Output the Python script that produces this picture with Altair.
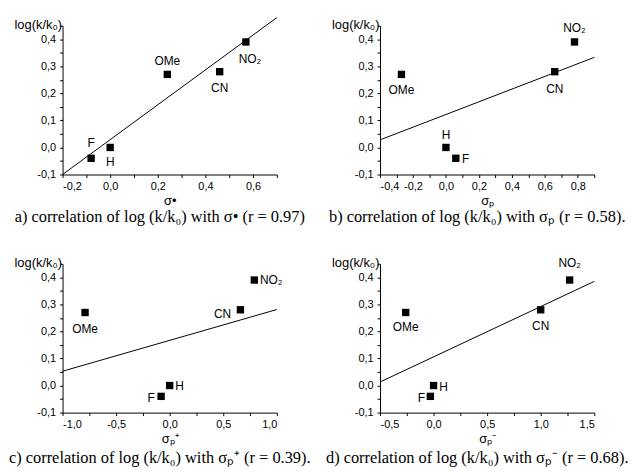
import altair as alt
import pandas as pd

# ---------------- data ----------------
labels = ["F", "H", "OMe", "CN", "NO₂"]
log_k = [-0.04, 0.0, 0.27, 0.28, 0.39]

sigma_dot = [-0.08, 0.0, 0.24, 0.46, 0.57]
sigma_p = [0.06, 0.0, -0.27, 0.66, 0.78]
sigma_p_plus = [-0.08, 0.0, -0.79, 0.66, 0.79]
sigma_p_minus = [-0.03, 0.0, -0.26, 1.0, 1.27]

# regression lines (end points)
line_a_x = [-0.2, 0.7]
line_a_y = [-0.1, 0.48]
line_b_x = [-0.4, 0.9]
line_b_y = [0.028, 0.333]
line_c_x = [-1.0, 1.0]
line_c_y = [0.053, 0.281]
line_d_x = [-0.5, 1.5]
line_d_y = [0.013, 0.385]

# axis ticks and labelled ticks
y_ticks = [-0.1, -0.05, 0.0, 0.05, 0.1, 0.15, 0.2, 0.25, 0.3, 0.35, 0.4, 0.45]
y_labelled = [-0.1, 0.0, 0.1, 0.2, 0.3, 0.4]
x_ticks_a = [-0.2, -0.1, 0.0, 0.1, 0.2, 0.3, 0.4, 0.5, 0.6, 0.7]
x_lab_a = [-0.2, 0.0, 0.2, 0.4, 0.6]
x_ticks_b = [-0.4, -0.3, -0.2, -0.1, 0.0, 0.1, 0.2, 0.3, 0.4, 0.5, 0.6, 0.7, 0.8, 0.9]
x_lab_b = [-0.4, -0.2, 0.0, 0.2, 0.4, 0.6, 0.8]
x_ticks_c = [-1.0, -0.75, -0.5, -0.25, 0.0, 0.25, 0.5, 0.75, 1.0]
x_lab_c = [-1.0, -0.5, 0.0, 0.5, 1.0]
x_ticks_d = [-0.5, -0.25, 0.0, 0.25, 0.5, 0.75, 1.0, 1.25, 1.5]
x_lab_d = [-0.5, 0.0, 0.5, 1.0, 1.5]

# label offsets (dx, dy) in px, per panel, in the order of `labels`
off_a = [(0, -15), (0, 15), (0, -13), (0, 16), (4, 17)]
off_b = [(10, 1), (0, -13), (0, 16), (0, 17), (0, -14)]
off_c = [(-10, 2), (10, 0), (0, 17), (-18, 4), (17, 0)]
off_d = [(-9, 2), (10, 2), (0, 15), (0, 16), (0, -17)]

SANS = "Liberation Sans"
SERIF = "Liberation Serif"


def fmt_expr(labelled):
    arr = "[" + ",".join(repr(v) for v in labelled) + "]"
    return (
        f"indexof({arr}, datum.value) >= 0 ? "
        "(datum.value < 0 ? '-' : '') + replace(format(abs(datum.value), '.1f'), '.', ',') : ''"
    )


def panel(xvals, xtitle, caption, xticks, xlab, lx, ly, offs, cap_offset):
    df = pd.DataFrame({"x": xvals, "y": log_k, "label": labels})
    ldf = pd.DataFrame({"x": lx, "y": ly})
    xdom = [xticks[0], xticks[-1]]
    xs = alt.Scale(domain=xdom, nice=False, zero=False)
    ys = alt.Scale(domain=[-0.1, 0.45], nice=False, zero=False)

    xaxis = alt.Axis(
        values=xticks, labelExpr=fmt_expr(xlab), title=xtitle,
        titlePadding=3, labelPadding=3,
    )
    yaxis = alt.Axis(
        values=y_ticks, labelExpr=fmt_expr(y_labelled), title="log(k/k₀)",
        titleAngle=0, titleAlign="right", titleBaseline="bottom",
        titleX=-1, titleY=6, labelPadding=4,
    )
    X = alt.X("x:Q", scale=xs, axis=xaxis)
    Y = alt.Y("y:Q", scale=ys, axis=yaxis)

    line = alt.Chart(ldf).mark_line(color="black", strokeWidth=1).encode(x=X, y=Y)
    pts = alt.Chart(df).mark_square(size=55, color="black", opacity=1).encode(x=X, y=Y)
    texts = []
    for lab, (dx, dy) in zip(labels, offs):
        texts.append(
            alt.Chart(df)
            .transform_filter(alt.datum.label == lab)
            .mark_text(font=SANS, fontSize=12, color="black", dx=dx, dy=dy,
                       align="center", baseline="middle")
            .encode(x=X, y=Y, text="label:N")
        )
    return alt.layer(line, pts, *texts).properties(
        width=216, height=150,
        title=alt.TitleParams(caption, orient="bottom", anchor="middle",
                              frame="group", dx=-10, offset=cap_offset),
    )


pa = panel(sigma_dot, "σ•", "a) correlation of log (k/k₀) with σ• (r = 0.97)",
           x_ticks_a, x_lab_a, line_a_x, line_a_y, off_a, 2)
pb = panel(sigma_p, "σₚ", "b) correlation of log (k/k₀) with σₚ (r = 0.58).",
           x_ticks_b, x_lab_b, line_b_x, line_b_y, off_b, 2)
pc = panel(sigma_p_plus, "σₚ⁺", "c) correlation of log (k/k₀) with σₚ⁺ (r = 0.39).",
           x_ticks_c, x_lab_c, line_c_x, line_c_y, off_c, 5)
pd_ = panel(sigma_p_minus, "σₚ⁻", "d) correlation of log (k/k₀) with σₚ⁻ (r = 0.68).",
            x_ticks_d, x_lab_d, line_d_x, line_d_y, off_d, 5)

chart = alt.ConcatChart(
    concat=[pa, pb, pc, pd_], columns=2,
    spacing=alt.RowColnumber(row=90, column=104), bounds="flush",
).properties(
    padding={"left": 0, "top": 5, "right": 0, "bottom": 0},
    background="white",
).configure_view(stroke=None).configure_axis(
    grid=False, domainColor="black", tickColor="black", labelColor="black",
    titleColor="black", labelFont=SANS, titleFont=SANS, labelFontSize=11,
    titleFontSize=13, titleFontWeight="normal", tickSize=3, domainWidth=1,
    tickWidth=1,
).configure_title(font=SERIF, fontSize=16.5, fontWeight="normal", color="black")

chart.save("out.html", embed_options={"renderer": "svg", "actions": False})
